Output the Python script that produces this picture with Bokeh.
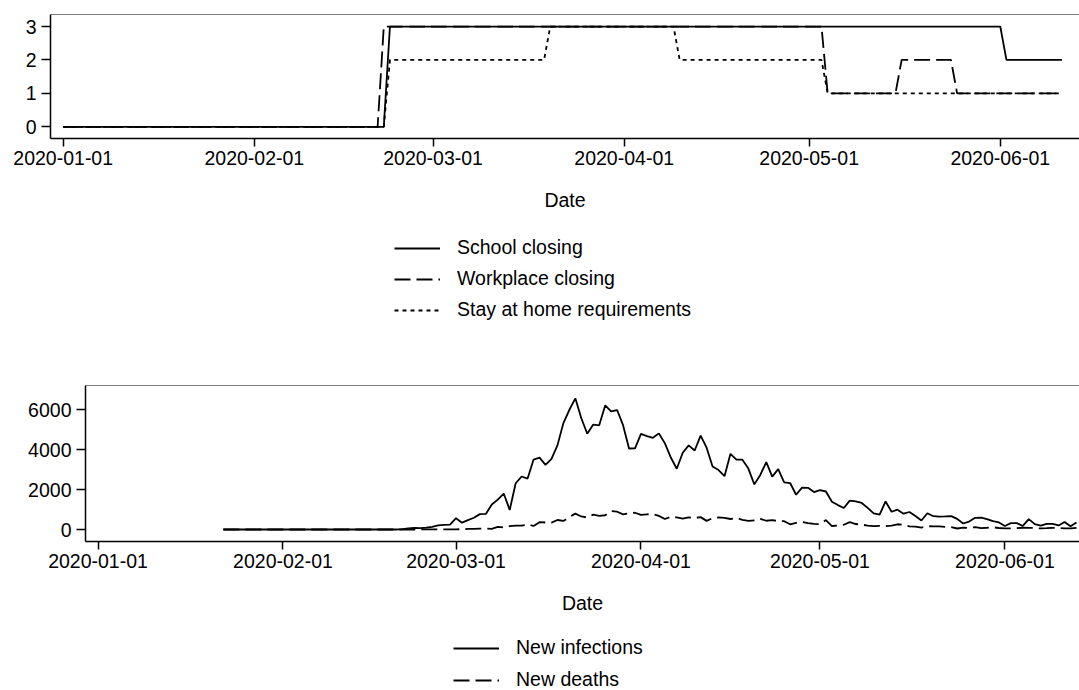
import numpy as np
import pandas as pd
from bokeh.plotting import figure
from bokeh.models import (ColumnDataSource, Range1d, FixedTicker, DatetimeTickFormatter,
                          Legend, LegendItem, Span)
from bokeh.layouts import column
from bokeh.embed import file_html
from bokeh.resources import INLINE

FONT = "Liberation Sans"
FS = "19.5px"

# ---------------- data: policy levels (change points, level held between) ----------------
school_dates = ["2020-01-01", "2020-02-22", "2020-02-23", "2020-06-01", "2020-06-02", "2020-06-11"]
school_level = [0, 0, 3, 3, 2, 2]

work_dates = ["2020-01-01", "2020-02-21", "2020-02-22", "2020-05-03", "2020-05-04",
              "2020-05-15", "2020-05-16", "2020-05-24", "2020-05-25", "2020-06-11"]
work_level = [0, 0, 3, 3, 1, 1, 2, 2, 1, 1]

home_dates = ["2020-01-01", "2020-02-22", "2020-02-23", "2020-03-19", "2020-03-20",
              "2020-04-09", "2020-04-10", "2020-05-03", "2020-05-04", "2020-06-11"]
home_level = [0, 0, 2, 2, 3, 3, 2, 2, 1, 1]

# ---------------- data: daily new infections / deaths from 2020-01-22 ----------------
series_start = "2020-01-22"
new_infections = (
    [0] * 30 +
    [17, 59, 76, 72, 93, 131, 202, 233, 240] +
    [566, 342, 466, 587, 769, 778, 1247, 1492, 1797, 977, 2313, 2651, 2547, 3497, 3590, 3233,
     3526, 4207, 5322, 5986, 6557, 5560, 4789, 5249, 5210, 6203, 5909, 5974, 5217, 4050, 4053] +
    [4782, 4668, 4585, 4805, 4316, 3599, 3039, 3836, 4204, 3951, 4694, 4092, 3153, 2972, 2667,
     3786, 3493, 3491, 3047, 2256, 2729, 3370, 2646, 3021, 2357, 2324, 1739, 2091, 2086, 1872] +
    [1965, 1900, 1389, 1221, 1075, 1444, 1401, 1327, 1083, 802, 744, 1402, 888, 992, 789, 875,
     675, 451, 813, 665, 642, 652, 669, 531, 300, 397, 584, 593, 516, 416, 355] +
    [178, 318, 321, 177, 518, 270, 197, 280, 283, 202, 379, 163, 346]
)
new_deaths = (
    [0] * 30 +
    [1, 1, 1, 4, 3, 2, 5, 4, 8] +
    [5, 18, 27, 28, 41, 49, 36, 133, 97, 168, 196, 189, 250, 175, 368, 349, 345, 475, 427, 627,
     793, 651, 601, 743, 683, 712, 919, 889, 756, 812, 837] +
    [727, 760, 766, 681, 525, 636, 604, 542, 610, 570, 619, 431, 566, 602, 578, 525, 575, 482,
     433, 454, 534, 437, 464, 420, 415, 260, 333, 382, 323, 285] +
    [269, 474, 174, 195, 236, 369, 274, 243, 194, 165, 179, 172, 195, 262, 242, 153, 145, 99,
     162, 161, 156, 130, 119, 50, 92, 78, 117, 70, 87, 111, 75] +
    [60, 55, 71, 88, 85, 72, 53, 65, 79, 71, 53, 56, 78]
)

x_tick_labels = ["2020-01-01", "2020-02-01", "2020-03-01", "2020-04-01", "2020-05-01", "2020-06-01"]
top_yticks = [0, 1, 2, 3]
bottom_yticks = [0, 2000, 4000, 6000]

top_labels = ["School closing", "Workplace closing", "Stay at home requirements"]
bottom_labels = ["New infections", "New deaths"]

# ---------------- styles ----------------
LW = 1.8
SOLID = "solid"
DASH = "16 6"
DOT = "4 4"
top_styles = [SOLID, DASH, DOT]
bottom_styles = [SOLID, DASH]

# ---------------- helpers ----------------
DAY = 86400000.0
T0 = pd.Timestamp("2020-01-01").value / 1e6
tick_ms = [pd.Timestamp(d).value / 1e6 for d in x_tick_labels]
fmt = "%Y-%m-%d"


def make_fmt():
    return DatetimeTickFormatter(milliseconds=fmt, seconds=fmt, minsec=fmt, minutes=fmt,
                                 hourmin=fmt, hours=fmt, days=fmt, months=fmt, years=fmt)


def style(p, yticks):
    p.outline_line_color = None
    p.xgrid.visible = False
    p.ygrid.visible = False
    p.background_fill_color = "white"
    p.border_fill_color = "white"
    p.frame_align = False
    xa = p.xaxis[0]
    ya = p.yaxis[0]
    xa.ticker = FixedTicker(ticks=tick_ms)
    xa.formatter = make_fmt()
    ya.ticker = FixedTicker(ticks=yticks)
    for ax in (xa, ya):
        ax.axis_line_color = "black"
        ax.axis_line_width = 1.5
        ax.major_tick_line_color = "black"
        ax.major_tick_line_width = 1.5
        ax.major_tick_in = 0
        ax.minor_tick_line_color = None
        ax.major_label_text_font = FONT
        ax.major_label_text_font_size = FS
        ax.major_label_text_color = "black"
    xa.major_tick_out = 8
    xa.major_label_standoff = 4
    ya.major_tick_out = 9
    ya.major_label_standoff = 5
    xa.axis_label = "Date"
    xa.axis_label_text_font = FONT
    xa.axis_label_text_font_size = FS
    xa.axis_label_text_font_style = "normal"
    xa.axis_label_text_color = "black"
    xa.axis_label_standoff = 21
    p.add_layout(Span(location=p.y_range.end, dimension="width",
                      line_color="black", line_width=1.2))


def legend_figure(height, labels, dashes, loc, spacing):
    q = figure(width=1079, height=height, output_backend="svg", toolbar_location=None,
               x_axis_location=None, y_axis_location=None,
               x_range=Range1d(0, 1), y_range=Range1d(0, 1),
               min_border_left=0, min_border_right=0, min_border_top=0, min_border_bottom=0)
    q.outline_line_color = None
    q.xgrid.visible = False
    q.ygrid.visible = False
    q.frame_align = False
    items = []
    for lab, d in zip(labels, dashes):
        # legend proxy renderer: holds only a NaN, so nothing is drawn in the frame
        r = q.line(x=[np.nan, np.nan], y=[np.nan, np.nan], line_color="black",
                   line_width=LW, line_dash=d)
        items.append(LegendItem(label=lab, renderers=[r]))
    lg = Legend(items=items, location=loc, orientation="vertical")
    lg.border_line_color = None
    lg.background_fill_alpha = 0
    lg.padding = 0
    lg.margin = 0
    lg.spacing = spacing
    lg.glyph_width = 46
    lg.glyph_height = 22
    lg.label_height = 22
    lg.label_standoff = 17
    lg.label_text_font = FONT
    lg.label_text_font_size = FS
    lg.label_text_color = "black"
    q.add_layout(lg)
    return q


# ---------------- top chart ----------------
p1 = figure(width=1079, height=218, output_backend="svg", toolbar_location=None,
            x_axis_type="datetime",
            x_range=Range1d(T0 - 2.06 * DAY, T0 + 164.85 * DAY),
            y_range=Range1d(-0.35, 3.36),
            min_border_left=50, min_border_right=0, min_border_top=14, min_border_bottom=80)
style(p1, top_yticks)
for dts, lev, d in zip([school_dates, work_dates, home_dates],
                       [school_level, work_level, home_level], top_styles):
    p1.line(pd.to_datetime(dts), lev, line_color="black", line_width=LW, line_dash=d)

leg1 = legend_figure(140, top_labels, top_styles, (394, 37), 8)

# ---------------- bottom chart ----------------
dates = pd.date_range(series_start, periods=len(new_infections), freq="D")
src = ColumnDataSource(dict(date=dates, inf=new_infections, dth=new_deaths))

p2 = figure(width=1079, height=263, output_backend="svg", toolbar_location=None,
            x_axis_type="datetime",
            x_range=Range1d(T0 - 2.1 * DAY, T0 + 164.5 * DAY),
            y_range=Range1d(-600, 7200),
            min_border_left=85, min_border_right=0, min_border_top=27, min_border_bottom=80)
style(p2, bottom_yticks)
p2.line("date", "inf", source=src, line_color="black", line_width=LW, line_dash=SOLID)
p2.line("date", "dth", source=src, line_color="black", line_width=LW, line_dash=DASH)

leg2 = legend_figure(69, bottom_labels, bottom_styles, (453, -1), 9)

layout = column(p1, leg1, p2, leg2, spacing=0)
open("out.html", "w").write(file_html(layout, INLINE))
